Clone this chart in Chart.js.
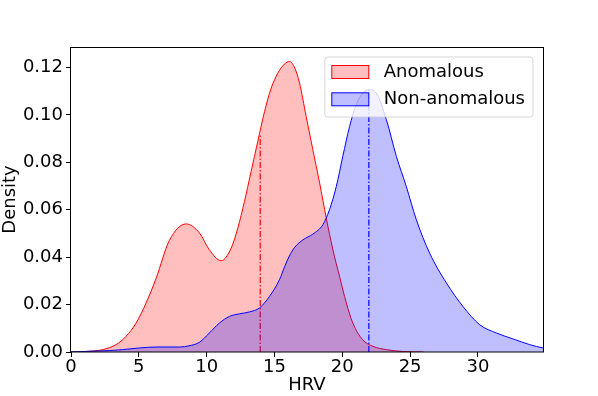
<!DOCTYPE html>
<html>
<head>
<meta charset="utf-8">
<script src="https://cdn.jsdelivr.net/npm/chart.js@4/dist/chart.umd.min.js"></script>
<style>
  html, body { margin: 0; padding: 0; background: #fff; }
</style>
</head>
<body>
<canvas id="myChart" width="598" height="396"></canvas>
<script>
const seriesNames = ["Anomalous", "Non-anomalous"];

// KDE curves
const anomHrv = [0, 1.35, 2.33, 3.32, 4.06, 4.8, 5.54, 6.27, 7.25, 8.49, 9.47, 10.2, 11.07, 11.81, 12.3, 12.79, 13.28, 13.77, 14.27, 14.76, 15.25, 15.74, 16.11, 16.5, 16.85, 17.34, 17.83, 18.33, 18.82, 19.31, 19.8, 20.3, 20.78, 21.5, 22.26, 23.25, 24.5, 26];
const anomDensity = [0, 0.0003, 0.001, 0.0031, 0.0066, 0.0122, 0.0207, 0.031, 0.047, 0.054, 0.0502, 0.0431, 0.0385, 0.0438, 0.0523, 0.0635, 0.0761, 0.0888, 0.1014, 0.1113, 0.1176, 0.1214, 0.1225, 0.1197, 0.1134, 0.0993, 0.0853, 0.0713, 0.0565, 0.0431, 0.0319, 0.0207, 0.0122, 0.0052, 0.0024, 0.001, 0.0002, 0];

const normHrv = [0, 1.35, 2.83, 3.8, 5.04, 6.27, 8.0, 8.7, 9.47, 10.2, 10.94, 11.68, 12.42, 13.16, 13.9, 14.63, 15.37, 15.75, 16.1, 16.5, 17.1, 17.83, 18.57, 19.06, 19.56, 20.04, 20.54, 21.03, 21.52, 21.96, 22.5, 23.25, 23.99, 24.72, 25.46, 26.44, 27.68, 28.9, 30.13, 31.37, 32.6, 33.82, 34.8, 35.5];
const normDensity = [0, 0.0003, 0.0006, 0.001, 0.0017, 0.0021, 0.0021, 0.0026, 0.0041, 0.008, 0.0122, 0.015, 0.0161, 0.0169, 0.0186, 0.0234, 0.0305, 0.036, 0.0405, 0.0442, 0.0473, 0.0497, 0.0537, 0.060, 0.0698, 0.0825, 0.0951, 0.1043, 0.1092, 0.1106, 0.1092, 0.098, 0.0825, 0.0698, 0.0558, 0.0417, 0.0291, 0.0192, 0.0115, 0.008, 0.0055, 0.0031, 0.0017, 0.001];

// dash-dot markers: x position and height
const markerHrv = [13.95, 21.96];
const markerTop = [0.0921, 0.1106];

const xTicks = [0, 5, 10, 15, 20, 25, 30];
const yTicks = [0, 0.02, 0.04, 0.06, 0.08, 0.10, 0.12];

const FONT = "'DejaVu Sans', sans-serif";
const FSIZE = 18;
const zip = (xs, ys) => xs.map((x, i) => ({x: x, y: ys[i]}));

// frame + matplotlib style legend drawn over the plot
const boxLegend = {
  id: 'boxLegend',
  afterDatasetsDraw(chart) {
    const ctx = chart.ctx, a = chart.chartArea;
    ctx.save();
    ctx.strokeStyle = '#000';
    ctx.lineWidth = 1;
    ctx.strokeRect(Math.round(a.left) - 0.5, Math.round(a.top) + 0.5,
      Math.round(a.right - a.left) + 1, Math.round(a.bottom - a.top) - 0.5);

    const items = chart.data.datasets.filter(d => d.label);
    ctx.font = FSIZE + 'px ' + FONT;
    const textW = Math.max(...items.map(d => ctx.measureText(d.label).width));
    const w = 7 + 37 + 15 + textW + 8, h = 60;
    const x0 = a.right - 10 - w, y0 = a.top + 10;
    ctx.beginPath();
    ctx.roundRect(x0, y0, w, h, 3);
    ctx.fillStyle = 'rgba(255,255,255,0.8)';
    ctx.fill();
    ctx.strokeStyle = 'rgba(204,204,204,0.8)';
    ctx.stroke();
    items.forEach((d, i) => {
      const cy = y0 + 15 + i * 27.3;
      ctx.fillStyle = d.backgroundColor;
      ctx.fillRect(x0 + 7, cy - 6.5, 37, 13);
      ctx.strokeStyle = d.borderColor;
      ctx.lineWidth = 1;
      ctx.strokeRect(x0 + 7, cy - 6.5, 37, 13);
      ctx.fillStyle = '#000';
      ctx.textBaseline = 'middle';
      ctx.textAlign = 'left';
      ctx.fillText(d.label, x0 + 59, cy);
    });
    ctx.restore();
  }
};

function curve(label, xs, ys, color, fillColor, order) {
  return {
    label: label,
    data: zip(xs, ys),
    borderColor: color,
    backgroundColor: fillColor,
    borderWidth: 1,
    fill: 'origin',
    pointRadius: 0,
    cubicInterpolationMode: 'monotone',
    order: order
  };
}

function marker(i, color, order) {
  return {
    label: '',
    data: [{x: markerHrv[i], y: 0}, {x: markerHrv[i], y: markerTop[i]}],
    borderColor: color,
    borderWidth: 1.2,
    borderDash: [6, 2, 1.5, 2],
    pointRadius: 0,
    fill: false,
    order: order
  };
}

new Chart(document.getElementById("myChart"), {
  type: 'line',
  data: {
    datasets: [
      curve(seriesNames[0], anomHrv, anomDensity, 'red', 'rgba(255,0,0,0.25)', 3),
      marker(0, 'red', 2),
      curve(seriesNames[1], normHrv, normDensity, 'blue', 'rgba(0,0,255,0.25)', 1),
      marker(1, 'blue', 0)
    ]
  },
  options: {
    responsive: false,
    animation: false,
    devicePixelRatio: 1,
    layout: { padding: { left: 0, right: 55, top: 47, bottom: 0 } },
    plugins: {
      legend: { display: false },
      tooltip: { enabled: false }
    },
    scales: {
      x: {
        type: 'linear',
        min: 0,
        max: 34.8,
        afterBuildTicks: s => { s.ticks = xTicks.map(v => ({value: v})); },
        afterFit: s => { s.height = 44; },
        ticks: { color: '#000', font: { family: FONT, size: FSIZE }, padding: 0, maxRotation: 0 },
        grid: { drawOnChartArea: false, tickLength: 5, tickColor: '#000' },
        border: { display: false },
        title: { display: true, text: 'HRV', color: '#000', font: { family: FONT, size: FSIZE }, padding: { top: 0, bottom: 0 } }
      },
      y: {
        min: 0,
        max: 0.1286,
        afterBuildTicks: s => { s.ticks = yTicks.map(v => ({value: v})); },
        afterFit: s => { s.width = 71; },
        ticks: { color: '#000', font: { family: FONT, size: FSIZE }, padding: 3, callback: v => v.toFixed(2) },
        grid: { drawOnChartArea: false, tickLength: 5, tickColor: '#000' },
        border: { display: false },
        title: { display: true, text: 'Density', color: '#000', font: { family: FONT, size: FSIZE }, padding: { top: 0, bottom: 0 } }
      }
    }
  },
  plugins: [boxLegend]
});
</script>
</body>
</html>
